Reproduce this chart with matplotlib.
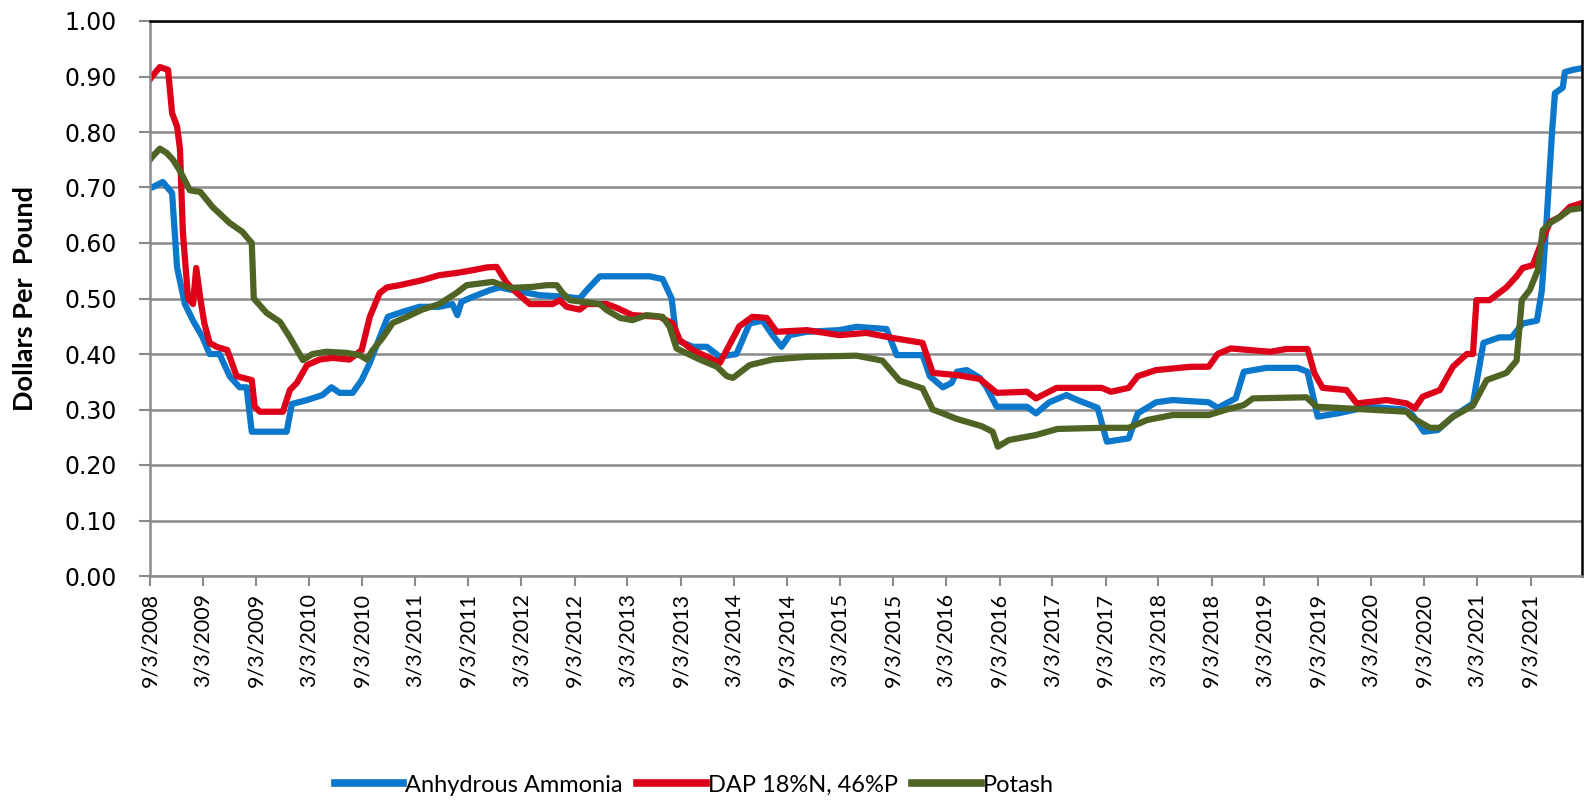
import numpy as np
import pandas as pd
import matplotlib
matplotlib.use("Agg")
import matplotlib.pyplot as plt

# weekly fertilizer prices, dollars per pound
ammonia_dates = ["2008-09-03", "2008-09-10", "2008-10-17", "2008-11-18", "2008-12-05", "2009-01-01",
                 "2009-01-29", "2009-03-03", "2009-03-27", "2009-04-30", "2009-06-04", "2009-07-08",
                 "2009-08-01", "2009-08-19", "2009-12-17", "2010-01-04", "2010-02-25", "2010-04-19",
                 "2010-05-20", "2010-06-17", "2010-08-01", "2010-09-01", "2010-09-29", "2010-11-02",
                 "2010-11-30", "2011-01-20", "2011-03-18", "2011-05-26", "2011-07-10", "2011-07-27",
                 "2011-08-10", "2011-09-18", "2011-11-16", "2011-12-20", "2012-02-03", "2012-05-05",
                 "2012-08-06", "2012-09-20", "2012-10-14", "2012-11-28", "2013-03-20", "2013-05-18",
                 "2013-07-02", "2013-08-02", "2013-08-19", "2013-10-14", "2013-12-01", "2014-01-15",
                 "2014-03-13", "2014-04-27", "2014-06-11", "2014-07-15", "2014-08-15", "2014-09-12",
                 "2014-11-10", "2015-03-02", "2015-04-30", "2015-08-11", "2015-09-15", "2015-12-13",
                 "2016-01-07", "2016-02-21", "2016-03-22", "2016-04-09", "2016-05-13", "2016-06-27",
                 "2016-07-20", "2016-08-24", "2016-12-06", "2017-01-06", "2017-02-21", "2017-04-21",
                 "2017-05-29", "2017-08-06", "2017-09-07", "2017-11-21", "2017-12-22", "2018-02-23",
                 "2018-04-21", "2018-08-23", "2018-09-23", "2018-11-24", "2018-12-22", "2019-03-09",
                 "2019-06-25", "2019-07-29", "2019-09-02", "2019-11-10", "2020-02-25", "2020-06-24",
                 "2020-07-24", "2020-09-01", "2020-10-19", "2020-12-10", "2021-02-17", "2021-03-25",
                 "2021-05-19", "2021-06-30", "2021-08-07", "2021-09-25", "2021-10-12", "2021-10-29",
                 "2021-11-16", "2021-11-26", "2021-12-23", "2021-12-30", "2022-01-27", "2022-02-27"]
ammonia = [0.70, 0.70, 0.71, 0.69, 0.556, 0.49,
           0.46, 0.43, 0.40, 0.40, 0.36, 0.34,
           0.34, 0.26, 0.26, 0.31, 0.317, 0.326,
           0.34, 0.33, 0.33, 0.353, 0.384, 0.43,
           0.467, 0.476, 0.485, 0.485, 0.49, 0.47,
           0.494, 0.503, 0.515, 0.52, 0.515, 0.506,
           0.503, 0.50, 0.515, 0.54, 0.54, 0.54,
           0.535, 0.50, 0.425, 0.413, 0.413, 0.395,
           0.40, 0.455, 0.46, 0.434, 0.413, 0.434,
           0.44, 0.443, 0.449, 0.445, 0.398, 0.398,
           0.36, 0.34, 0.348, 0.368, 0.371, 0.357,
           0.34, 0.305, 0.305, 0.293, 0.313, 0.326,
           0.317, 0.303, 0.242, 0.248, 0.293, 0.313,
           0.317, 0.313, 0.303, 0.32, 0.368, 0.375,
           0.375, 0.368, 0.287, 0.293, 0.305, 0.30,
           0.29, 0.26, 0.263, 0.287, 0.311, 0.42,
           0.43, 0.43, 0.455, 0.46, 0.515, 0.647,
           0.80, 0.87, 0.88, 0.908, 0.912, 0.915]

dap_dates = ["2008-09-03", "2008-09-10", "2008-10-07", "2008-11-04", "2008-11-18", "2008-12-05",
             "2008-12-15", "2008-12-25", "2009-01-12", "2009-01-29", "2009-02-09", "2009-02-23",
             "2009-03-09", "2009-03-27", "2009-04-20", "2009-05-27", "2009-06-28", "2009-08-19",
             "2009-08-29", "2009-09-16", "2009-12-04", "2009-12-28", "2010-01-21", "2010-02-25",
             "2010-04-09", "2010-05-24", "2010-07-21", "2010-09-01", "2010-09-29", "2010-11-02",
             "2010-11-27", "2011-01-10", "2011-03-28", "2011-05-26", "2011-07-24", "2011-09-18",
             "2011-11-05", "2011-12-09", "2012-01-13", "2012-02-17", "2012-04-01", "2012-06-19",
             "2012-07-13", "2012-08-06", "2012-09-20", "2012-10-14", "2012-12-22", "2013-01-26",
             "2013-03-20", "2013-06-22", "2013-08-06", "2013-08-30", "2013-10-14", "2013-12-22",
             "2014-01-15", "2014-03-23", "2014-05-07", "2014-06-25", "2014-07-29", "2014-11-10",
             "2015-03-02", "2015-06-03", "2015-08-31", "2015-12-13", "2016-01-17", "2016-04-09",
             "2016-06-27", "2016-08-24", "2016-12-06", "2017-01-06", "2017-03-18", "2017-08-20",
             "2017-09-21", "2017-11-21", "2017-12-22", "2018-02-23", "2018-06-22", "2018-08-23",
             "2018-09-23", "2018-11-07", "2019-03-23", "2019-05-17", "2019-07-29", "2019-08-22",
             "2019-09-19", "2019-12-10", "2020-01-14", "2020-04-26", "2020-07-04", "2020-08-01",
             "2020-08-28", "2020-10-26", "2020-12-10", "2021-01-27", "2021-02-17", "2021-03-01",
             "2021-04-15", "2021-06-12", "2021-07-17", "2021-08-07", "2021-09-11", "2021-10-05",
             "2021-11-09", "2021-12-13", "2022-01-16", "2022-02-27"]
dap = [0.895, 0.90, 0.917, 0.912, 0.834, 0.81,
       0.77, 0.62, 0.50, 0.49, 0.555, 0.50,
       0.455, 0.42, 0.413, 0.407, 0.36, 0.353,
       0.305, 0.296, 0.296, 0.335, 0.348, 0.38,
       0.39, 0.393, 0.39, 0.407, 0.467, 0.51,
       0.52, 0.524, 0.533, 0.542, 0.546, 0.551,
       0.556, 0.557, 0.528, 0.51, 0.49, 0.49,
       0.497, 0.485, 0.48, 0.49, 0.49, 0.483,
       0.47, 0.467, 0.455, 0.425, 0.407, 0.39,
       0.384, 0.45, 0.467, 0.465, 0.44, 0.443,
       0.434, 0.438, 0.429, 0.42, 0.366, 0.362,
       0.355, 0.33, 0.332, 0.32, 0.339, 0.339,
       0.332, 0.339, 0.36, 0.371, 0.377, 0.377,
       0.40, 0.41, 0.404, 0.409, 0.409, 0.365,
       0.339, 0.335, 0.311, 0.317, 0.311, 0.302,
       0.323, 0.335, 0.377, 0.40, 0.40, 0.497,
       0.497, 0.52, 0.54, 0.555, 0.56, 0.593,
       0.638, 0.647, 0.665, 0.672]

potash_dates = ["2008-09-03", "2008-09-10", "2008-10-07", "2008-10-31", "2008-11-21", "2008-12-15",
                "2009-01-18", "2009-02-23", "2009-04-06", "2009-06-04", "2009-07-18", "2009-08-19",
                "2009-08-26", "2009-10-09", "2009-11-24", "2009-12-28", "2010-02-11", "2010-03-16",
                "2010-05-03", "2010-07-11", "2010-08-25", "2010-09-19", "2010-10-09", "2010-11-13",
                "2010-12-17", "2011-02-04", "2011-03-28", "2011-05-26", "2011-07-24", "2011-08-28",
                "2011-11-26", "2012-01-24", "2012-04-12", "2012-05-29", "2012-07-03", "2012-07-23",
                "2012-08-17", "2012-11-28", "2012-12-22", "2013-02-06", "2013-03-20", "2013-05-08",
                "2013-07-02", "2013-07-26", "2013-08-19", "2013-11-07", "2014-01-05", "2014-02-08",
                "2014-03-01", "2014-04-27", "2014-07-15", "2014-11-10", "2015-04-30", "2015-07-28",
                "2015-09-25", "2015-12-13", "2016-01-17", "2016-04-09", "2016-07-03", "2016-08-10",
                "2016-08-28", "2016-10-05", "2017-01-06", "2017-03-21", "2017-08-20", "2017-11-21",
                "2018-01-23", "2018-04-21", "2018-08-23", "2018-10-24", "2018-12-22", "2019-01-22",
                "2019-07-25", "2019-08-29", "2020-02-18", "2020-07-04", "2020-07-24", "2020-09-22",
                "2020-10-26", "2020-12-10", "2021-02-17", "2021-04-05", "2021-06-12", "2021-07-17",
                "2021-08-04", "2021-08-31", "2021-09-28", "2021-10-15", "2021-11-09", "2021-12-13",
                "2022-01-16", "2022-02-27"]
potash = [0.75, 0.755, 0.77, 0.762, 0.75, 0.73,
          0.695, 0.692, 0.665, 0.636, 0.62, 0.60,
          0.50, 0.474, 0.458, 0.43, 0.389, 0.40,
          0.404, 0.402, 0.398, 0.39, 0.407, 0.43,
          0.456, 0.467, 0.48, 0.49, 0.51, 0.524,
          0.53, 0.519, 0.521, 0.524, 0.524, 0.51,
          0.497, 0.49, 0.479, 0.465, 0.461, 0.47,
          0.467, 0.449, 0.41, 0.39, 0.377, 0.36,
          0.357, 0.38, 0.39, 0.395, 0.397, 0.388,
          0.352, 0.338, 0.30, 0.283, 0.27, 0.26,
          0.233, 0.245, 0.254, 0.265, 0.267, 0.267,
          0.281, 0.29, 0.29, 0.30, 0.308, 0.32,
          0.322, 0.305, 0.30, 0.296, 0.285, 0.267,
          0.267, 0.287, 0.307, 0.353, 0.366, 0.388,
          0.497, 0.515, 0.551, 0.623, 0.636, 0.647,
          0.66, 0.663]

series_names = ["Anhydrous Ammonia", "DAP 18%N, 46%P", "Potash"]
series_colors = ["#0B78CC", "#DD0018", "#4F6424"]

tick_dates = pd.date_range("2008-09-03", "2021-09-03", freq=pd.DateOffset(months=6))
tick_labels = [f"{d.month}/{d.day}/{d.year}" for d in tick_dates]
y_ticks = np.arange(0, 1.01, 0.1)

fig = plt.figure(figsize=(15.85, 8.02), dpi=100)
ax = fig.add_axes([150 / 1585, 1 - 576 / 802, 1432 / 1585, 555 / 802])

for d, v, name, col in zip([ammonia_dates, dap_dates, potash_dates], [ammonia, dap, potash],
                           series_names, series_colors):
    ax.plot(pd.to_datetime(d), v, color=col, lw=4.5, label=name, solid_joinstyle="round")

ax.set_xlim(pd.Timestamp("2008-09-03"), pd.Timestamp("2022-02-27"))
ax.set_ylim(0, 1.0)
ax.set_yticks(y_ticks)
ax.set_yticklabels([f"{t:.2f}" for t in y_ticks], fontsize=17, family="DejaVu Sans")
ax.set_xticks(tick_dates)
ax.set_xticklabels(tick_labels, rotation=90, fontsize=15.5, family="Lato")

ax.grid(axis="y", color="#8a8a8a", lw=1.8)
ax.set_axisbelow(True)
for s in ["left", "bottom"]:
    ax.spines[s].set_color("#8a8a8a")
    ax.spines[s].set_linewidth(1.8)
for s in ["top", "right"]:
    ax.spines[s].set_color("black")
    ax.spines[s].set_linewidth(1.8)
ax.tick_params(axis="y", length=8, width=1.5, color="#8a8a8a", pad=16)
ax.tick_params(axis="x", length=7, width=1.5, color="#8a8a8a", pad=5)

ax.set_ylabel("Dollars Per  Pound", fontsize=19.5, fontweight="bold", family="Lato")
ax.yaxis.set_label_coords(-0.079, 0.5)

leg = fig.legend(loc="center", bbox_to_anchor=(0.438, 0.021), ncol=3, frameon=False,
                 prop={"family": "Lato", "size": 17}, handlelength=2.9, handletextpad=0.1,
                 columnspacing=0.6)
for h in leg.get_lines():
    h.set_linewidth(5.5)

plt.savefig("out.png", dpi=100)
plt.close()
